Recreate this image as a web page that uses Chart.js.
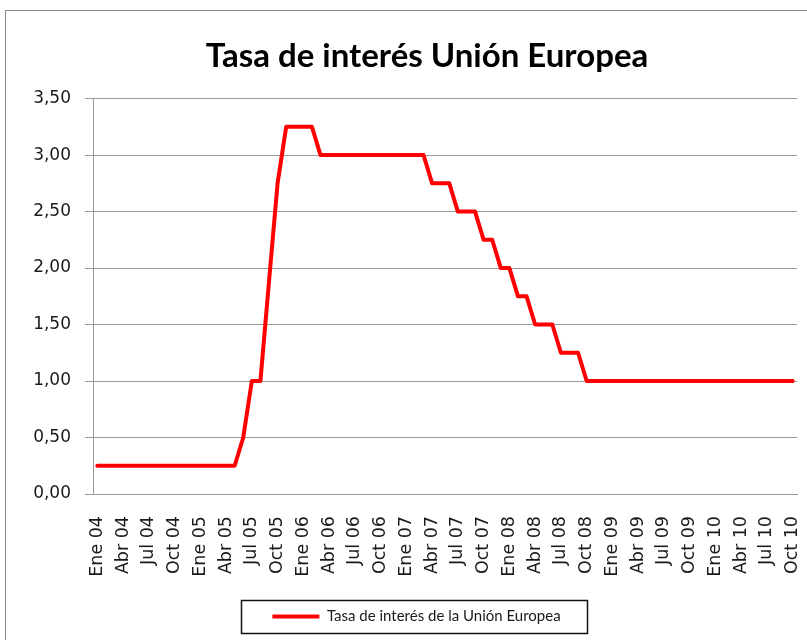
<!DOCTYPE html>
<html>
<head>
<meta charset="utf-8">
<script src="https://cdn.jsdelivr.net/npm/chart.js"></script>
<style>
    body { margin: 0; overflow: hidden; background: #fff; }
</style>
</head>
<body>
<canvas id="rateChart" width="854" height="640"></canvas>
<script>
// Meses (eje X), un punto por mes
const CATEGORIES = [
    'Ene 04', 'Feb 04', 'Mar 04', 'Abr 04', 'May 04', 'Jun 04', 'Jul 04', 'Ago 04', 'Sep 04', 'Oct 04', 'Nov 04', 'Dic 04',
    'Ene 05', 'Feb 05', 'Mar 05', 'Abr 05', 'May 05', 'Jun 05', 'Jul 05', 'Ago 05', 'Sep 05', 'Oct 05', 'Nov 05', 'Dic 05',
    'Ene 06', 'Feb 06', 'Mar 06', 'Abr 06', 'May 06', 'Jun 06', 'Jul 06', 'Ago 06', 'Sep 06', 'Oct 06', 'Nov 06', 'Dic 06',
    'Ene 07', 'Feb 07', 'Mar 07', 'Abr 07', 'May 07', 'Jun 07', 'Jul 07', 'Ago 07', 'Sep 07', 'Oct 07', 'Nov 07', 'Dic 07',
    'Ene 08', 'Feb 08', 'Mar 08', 'Abr 08', 'May 08', 'Jun 08', 'Jul 08', 'Ago 08', 'Sep 08', 'Oct 08', 'Nov 08', 'Dic 08',
    'Ene 09', 'Feb 09', 'Mar 09', 'Abr 09', 'May 09', 'Jun 09', 'Jul 09', 'Ago 09', 'Sep 09', 'Oct 09', 'Nov 09', 'Dic 09',
    'Ene 10', 'Feb 10', 'Mar 10', 'Abr 10', 'May 10', 'Jun 10', 'Jul 10', 'Ago 10', 'Sep 10', 'Oct 10'
];

// Tasa de interés (%)
const RATE = [
    0.25, 0.25, 0.25, 0.25, 0.25, 0.25, 0.25, 0.25, 0.25, 0.25, 0.25, 0.25,
    0.25, 0.25, 0.25, 0.25, 0.25, 0.50, 1.00, 1.00, 1.88, 2.75, 3.25, 3.25,
    3.25, 3.25, 3.00, 3.00, 3.00, 3.00, 3.00, 3.00, 3.00, 3.00, 3.00, 3.00,
    3.00, 3.00, 3.00, 2.75, 2.75, 2.75, 2.50, 2.50, 2.50, 2.25, 2.25, 2.00,
    2.00, 1.75, 1.75, 1.50, 1.50, 1.50, 1.25, 1.25, 1.25, 1.00, 1.00, 1.00,
    1.00, 1.00, 1.00, 1.00, 1.00, 1.00, 1.00, 1.00, 1.00, 1.00, 1.00, 1.00,
    1.00, 1.00, 1.00, 1.00, 1.00, 1.00, 1.00, 1.00, 1.00, 1.00
];

const Y_MIN = 0;
const Y_MAX = 3.5;
const Y_STEP = 0.5;
const LABEL_EVERY = 3;

const TITLE = 'Tasa de interés Unión Europea';
const SERIES_NAME = 'Tasa de interés de la Unión Europea';

// marco exterior, fondo y recuadro de la leyenda
const chartFrame = {
    id: 'chartFrame',
    afterLayout(chart) {
        // el título se centra sobre todo el gráfico, la leyenda algo a la izquierda
        chart.titleBlock.right += 57;
        chart.legend.left += 18;
        chart.legend.right += 18;
    },
    beforeDraw(chart) {
        const ctx = chart.ctx;
        ctx.save();
        ctx.fillStyle = '#fff';
        ctx.fillRect(0, 0, chart.width, chart.height);
        ctx.strokeStyle = '#888';
        ctx.lineWidth = 1;
        ctx.strokeRect(5.5, 10.5, chart.width - 11, chart.height + 20);
        ctx.restore();
    },
    afterDraw(chart) {
        const lg = chart.legend;
        const hb = lg.legendHitBoxes[0];
        if (!hb) return;
        const ctx = chart.ctx;
        ctx.save();
        ctx.strokeStyle = '#111';
        ctx.lineWidth = 1.5;
        const x0 = Math.round(hb.left - 31) + 0.5;
        const x1 = Math.round(hb.left + hb.width + 26) + 0.5;
        ctx.strokeRect(x0, Math.round(lg.top) + 0.5, x1 - x0, Math.round(lg.bottom - lg.top) - 1);
        ctx.restore();
    }
};

new Chart(document.getElementById('rateChart'), {
    type: 'line',
    data: {
        labels: CATEGORIES,
        datasets: [{
            label: SERIES_NAME,
            data: RATE,
            borderColor: '#ff0000',
            backgroundColor: '#ff0000',
            borderWidth: 4,
            pointRadius: 0,
            tension: 0,
            borderJoinStyle: 'round',
            borderCapStyle: 'round'
        }]
    },
    options: {
        responsive: false,
        devicePixelRatio: 1,
        animation: false,
        layout: { padding: { left: 0, right: 57, top: 0, bottom: 6 } },
        plugins: {
            title: {
                display: true,
                text: TITLE,
                color: '#000',
                font: { family: 'Lato', size: 33, weight: 'bold' },
                padding: { top: 37, bottom: 22 }
            },
            legend: {
                position: 'bottom',
                labels: {
                    usePointStyle: true,
                    pointStyle: 'line',
                    pointStyleWidth: 47,
                    padding: 9,
                    color: '#1a1a1a',
                    font: { family: 'Lato', size: 15 }
                }
            },
            tooltip: { enabled: false }
        },
        scales: {
            x: {
                offset: true,
                grid: { display: false, drawTicks: false },
                border: { display: true, color: '#999', width: 1 },
                ticks: {
                    autoSkip: false,
                    minRotation: 90,
                    maxRotation: 90,
                    padding: 22,
                    color: '#1a1a1a',
                    font: { family: 'DejaVu Sans', size: 17.5 },
                    callback: function (val, idx) {
                        return idx % LABEL_EVERY === 0 ? this.getLabelForValue(val) : '';
                    }
                },
                afterFit(scale) { scale.height = 106; }
            },
            y: {
                min: Y_MIN,
                max: Y_MAX,
                grid: { color: '#999', tickLength: 8, lineWidth: 1 },
                border: { display: true, color: '#999', width: 1 },
                ticks: {
                    stepSize: Y_STEP,
                    padding: 14,
                    color: '#1a1a1a',
                    font: { family: 'DejaVu Sans', size: 17 },
                    callback: (v) => v.toFixed(2).replace('.', ',')
                },
                afterFit(scale) { scale.width = 93; }
            }
        }
    },
    plugins: [chartFrame]
});
</script>
</body>
</html>
